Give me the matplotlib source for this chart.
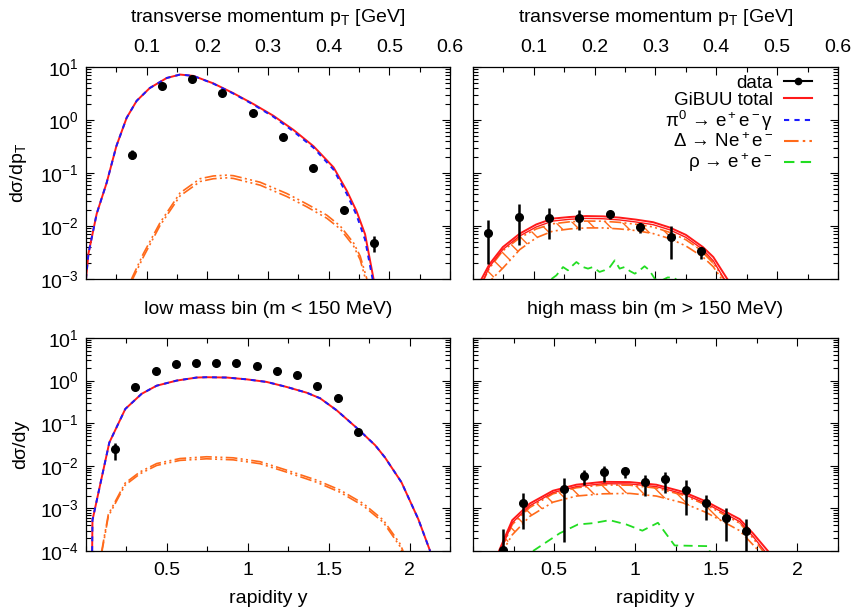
import matplotlib
matplotlib.use("Agg")
import matplotlib.pyplot as plt
from matplotlib.lines import Line2D
from matplotlib.ticker import LogLocator, MultipleLocator, NullFormatter
import numpy as np

plt.rcParams['font.family'] = ['Liberation Sans', 'DejaVu Sans']
plt.rcParams['mathtext.fontset'] = 'custom'
plt.rcParams['mathtext.rm'] = 'Liberation Sans'
plt.rcParams['mathtext.it'] = 'Liberation Sans:italic'
plt.rcParams['mathtext.default'] = 'regular'
plt.rcParams['hatch.linewidth'] = 1.0

# ---------------- data: top-left (pT, low mass) ----------------
pt_data_low = [0.075, 0.125, 0.175, 0.225, 0.275, 0.325, 0.375, 0.425, 0.475]
val_data_pt_low = [0.22, 4.3, 5.9, 3.3, 1.36, 0.485, 0.124, 0.020, 0.0047]
lo_data_pt_low = [0.18, 4.0, 5.5, 3.1, 1.28, 0.46, 0.116, 0.018, 0.0032]
hi_data_pt_low = [0.27, 4.6, 6.3, 3.5, 1.44, 0.51, 0.132, 0.022, 0.0065]

pt_tot_low = [0.0, 0.004, 0.0176, 0.034, 0.05, 0.067, 0.0835, 0.105, 0.133, 0.155, 0.177,
              0.21, 0.243, 0.276, 0.309, 0.342, 0.375, 0.408, 0.43, 0.446, 0.46, 0.474]
tot_pt_low = [0.001, 0.003, 0.017, 0.065, 0.32, 1.1, 2.3, 4.0, 6.2, 7.2, 6.8,
              4.9, 3.2, 2.0, 1.2, 0.65, 0.32, 0.128, 0.046, 0.019, 0.007, 0.001]
pi0_pt_low = [0.001, 0.003, 0.017, 0.065, 0.32, 1.1, 2.3, 4.0, 6.2, 7.2, 6.8,
              4.85, 3.15, 1.95, 1.15, 0.61, 0.30, 0.116, 0.040, 0.016, 0.0055, 0.0008]

pt_delta_low = [0.075, 0.0945, 0.122, 0.155, 0.188, 0.21, 0.232, 0.243, 0.287, 0.331,
                0.364, 0.397, 0.419, 0.441, 0.452, 0.463]
delta_hi_pt_low = [0.001, 0.003, 0.0115, 0.042, 0.078, 0.088, 0.091, 0.089, 0.067, 0.041,
                   0.026, 0.016, 0.010, 0.0048, 0.0027, 0.001]
delta_lo_pt_low = [0.0009, 0.0026, 0.0102, 0.037, 0.069, 0.078, 0.081, 0.079, 0.059, 0.036,
                   0.023, 0.014, 0.0088, 0.0042, 0.0023, 0.0008]

# ---------------- data: top-right (pT, high mass) ----------------
pt_data_high = [0.025, 0.075, 0.125, 0.175, 0.225, 0.275, 0.325, 0.375]
val_data_pt_high = [0.0075, 0.0148, 0.0142, 0.0142, 0.0166, 0.0094, 0.0062, 0.0034]
lo_data_pt_high = [0.0019, 0.0043, 0.0058, 0.0085, 0.0135, 0.0074, 0.0024, 0.0024]
hi_data_pt_high = [0.0128, 0.0256, 0.0222, 0.0198, 0.0195, 0.0114, 0.0101, 0.0041]

pt_tot_high = [0.014, 0.027, 0.049, 0.077, 0.104, 0.131, 0.159, 0.186, 0.214, 0.241,
               0.268, 0.296, 0.323, 0.35, 0.378, 0.395, 0.418]
tot_hi_pt_high = [0.001, 0.0019, 0.0040, 0.0072, 0.0107, 0.0138, 0.0148, 0.0154, 0.0152, 0.0144,
                  0.0132, 0.0118, 0.0094, 0.0068, 0.0040, 0.0026, 0.001]
tot_lo_pt_high = [0.0008, 0.0017, 0.0036, 0.0065, 0.0096, 0.0124, 0.0134, 0.0139, 0.0137, 0.0130,
                  0.0119, 0.0106, 0.0085, 0.0061, 0.0036, 0.0022, 0.0008]
delta_hi_pt_high = [0.0008, 0.0016, 0.0034, 0.0060, 0.0088, 0.0110, 0.0120, 0.0124, 0.0123, 0.0117,
                    0.0108, 0.0096, 0.0076, 0.0055, 0.0033, 0.0020, 0.0008]
delta_lo_pt_high = [0.0006, 0.0009, 0.0016, 0.0036, 0.0060, 0.0080, 0.0088, 0.0092, 0.0092, 0.0088,
                    0.0082, 0.0072, 0.0058, 0.0042, 0.0026, 0.0017, 0.0007]

pt_rho_high = [0.129, 0.137, 0.148, 0.156, 0.164, 0.170, 0.181, 0.189, 0.197, 0.208, 0.216,
               0.225, 0.233, 0.241, 0.249, 0.258, 0.266, 0.274, 0.282, 0.290, 0.299, 0.307,
               0.320, 0.331, 0.337]
rho_pt_high = [0.0010, 0.00117, 0.00168, 0.00146, 0.00181, 0.00209, 0.00168, 0.00157, 0.00168,
               0.00136, 0.00146, 0.00168, 0.00225, 0.00157, 0.00168, 0.00141, 0.00126, 0.00146,
               0.00174, 0.00146, 0.0010, 0.0009, 0.00107, 0.00106, 0.0009]

# ---------------- data: bottom-left (rapidity, low mass) ----------------
y_data_low = [0.18, 0.305, 0.43, 0.555, 0.68, 0.805, 0.93, 1.055, 1.18, 1.305, 1.43, 1.555, 1.68]
val_data_y_low = [0.0246, 0.70, 1.69, 2.41, 2.55, 2.6, 2.6, 2.2, 1.65, 1.36, 0.75, 0.385, 0.063]
lo_data_y_low = [0.014, 0.66, 1.60, 2.30, 2.43, 2.48, 2.48, 2.10, 1.57, 1.29, 0.71, 0.365, 0.054]
hi_data_y_low = [0.035, 0.74, 1.78, 2.52, 2.67, 2.72, 2.72, 2.30, 1.73, 1.43, 0.79, 0.405, 0.074]

y_tot_low = [0.038, 0.04, 0.144, 0.243, 0.344, 0.437, 0.56, 0.684, 0.746, 0.87, 0.993, 1.117,
             1.24, 1.364, 1.447, 1.55, 1.683, 1.787, 1.848, 1.95, 2.054, 2.127]
tot_y_low = [1e-4, 5.3e-4, 0.035, 0.216, 0.49, 0.76, 1.0, 1.18, 1.2, 1.18, 1.07, 0.93,
             0.71, 0.52, 0.385, 0.20, 0.072, 0.0305, 0.0157, 0.0041, 5.6e-4, 1e-4]
pi0_y_low = [1e-4, 5.3e-4, 0.035, 0.216, 0.49, 0.76, 1.0, 1.18, 1.2, 1.18, 1.07, 0.93,
             0.71, 0.52, 0.385, 0.20, 0.072, 0.0305, 0.0157, 0.0041, 5.6e-4, 1e-4]

y_delta_low = [0.097, 0.138, 0.241, 0.334, 0.437, 0.581, 0.746, 0.91, 1.076, 1.24, 1.426,
               1.57, 1.714, 1.838, 1.94, 1.96]
delta_hi_y_low = [1e-4, 7.2e-4, 0.0039, 0.0072, 0.0113, 0.0148, 0.0163, 0.0154, 0.0125, 0.0079,
                  0.0046, 0.0027, 0.0013, 5.3e-4, 1.5e-4, 1e-4]
delta_lo_y_low = [9e-5, 6.5e-4, 0.0035, 0.0065, 0.0102, 0.0134, 0.0146, 0.0138, 0.0112, 0.0071,
                  0.0041, 0.0024, 0.00115, 4.7e-4, 1.3e-4, 8.5e-5]

# ---------------- data: bottom-right (rapidity, high mass) ----------------
y_data_high = [0.185, 0.31, 0.56, 0.684, 0.81, 0.936, 1.06, 1.184, 1.31, 1.435, 1.56, 1.685]
val_data_y_high = [1.05e-4, 1.36e-3, 2.79e-3, 5.7e-3, 7.0e-3, 7.5e-3, 4.06e-3, 4.78e-3,
                   2.64e-3, 1.33e-3, 6.04e-4, 2.94e-4]
lo_data_y_high = [1e-5, 3.2e-4, 1.6e-4, 3.5e-3, 4.06e-3, 5.3e-3, 1.95e-3, 2.33e-3,
                  7.0e-4, 5.3e-4, 1.75e-4, 1e-5]
hi_data_y_high = [3.2e-4, 2.33e-3, 5.3e-3, 7.9e-3, 9.8e-3, 8.9e-3, 6.0e-3, 7.2e-3,
                  4.6e-3, 2.05e-3, 1.04e-3, 5.6e-4]

y_tot_high = [0.16, 0.242, 0.35, 0.493, 0.637, 0.801, 0.966, 1.13, 1.294, 1.438, 1.644, 1.726, 1.818]
tot_hi_y_high = [1e-4, 5.3e-4, 1.3e-3, 2.6e-3, 3.6e-3, 4.2e-3, 4.15e-3, 3.6e-3, 2.45e-3,
                 1.45e-3, 5.6e-4, 2.6e-4, 1e-4]
tot_lo_y_high = [8e-5, 4.6e-4, 1.15e-3, 2.35e-3, 3.25e-3, 3.8e-3, 3.75e-3, 3.25e-3, 2.2e-3,
                 1.3e-3, 4.9e-4, 2.2e-4, 8e-5]
delta_hi_y_high = [8e-5, 4.2e-4, 1.05e-3, 2.2e-3, 3.05e-3, 3.55e-3, 3.5e-3, 3.0e-3, 2.05e-3,
                   1.2e-3, 4.5e-4, 2.0e-4, 7e-5]
delta_lo_y_high = [7e-5, 2.4e-4, 6.5e-4, 1.4e-3, 1.95e-3, 2.2e-3, 2.25e-3, 1.95e-3, 1.35e-3,
                   8.0e-4, 3.0e-4, 1.4e-4, 6e-5]

y_rho_high = [0.37, 0.534, 0.647, 0.74, 0.842, 0.945, 1.044, 1.14, 1.243, 1.449, 1.46]
rho_y_high = [1e-4, 2.6e-4, 4.2e-4, 4.5e-4, 5.3e-4, 4.2e-4, 3.0e-4, 4.6e-4, 1.35e-4, 1.3e-4, 1e-4]

# ---------------- labels ----------------
pt_ticks = [0.1, 0.2, 0.3, 0.4, 0.5, 0.6]
y_ticks = [0.5, 1.0, 1.5, 2.0]
pt_label = 'transverse momentum p$_T$ [GeV]'
rap_label = 'rapidity y'
title_low = 'low mass bin (m < 150 MeV)'
title_high = 'high mass bin (m > 150 MeV)'
ylab_pt = 'dσ/dp$_T$'
ylab_y = 'dσ/dy'
legend_labels = ['data', 'GiBUU total', 'π$^0$ → e$^+$e$^-$γ', 'Δ → Ne$^+$e$^-$', 'ρ → e$^+$e$^-$']

# ---------------- styles ----------------
RED = '#ff1a1a'
BLUE = '#1a1aff'
ORANGE = '#ff6a1a'
GREEN = '#22dd22'
FS = 14
LFS = 13.5
ls_delta = (0, (7, 2, 1.2, 2, 1.2, 2))
ls_pi0 = (0, (2.5, 2.5))
ls_rho = (0, (5, 3))

W, H = 853, 610
fig = plt.figure(figsize=(W / 100, H / 100), dpi=100)

def box(l, t, r, b):
    return [l / W, 1 - b / H, (r - l) / W, (b - t) / H]

ax_tl = fig.add_axes(box(86, 67, 450, 279))
ax_tr = fig.add_axes(box(473, 67, 838, 279))
ax_bl = fig.add_axes(box(86, 338, 450, 551))
ax_br = fig.add_axes(box(473, 338, 838, 551))

def style(ax, top_panel, left_panel):
    ax.set_yscale('log')
    ax.yaxis.set_major_locator(LogLocator(base=10, numticks=10))
    ax.yaxis.set_minor_locator(LogLocator(base=10, subs=np.arange(2, 10), numticks=20))
    ax.yaxis.set_minor_formatter(NullFormatter())
    if top_panel:
        ax.set_xlim(0, 0.6)
        ax.set_ylim(1e-3, 1e1)
        ax.xaxis.set_minor_locator(MultipleLocator(0.05))
        ax.xaxis.tick_top()
        ax.xaxis.set_label_position('top')
        ax.set_xticks(pt_ticks)
        ax.set_xticklabels([f'{v:.1f}' for v in pt_ticks])
        ax.set_xlabel(pt_label, fontsize=FS, labelpad=12)
    else:
        ax.set_xlim(0, 2.25)
        ax.set_ylim(1e-4, 1e1)
        ax.xaxis.set_minor_locator(MultipleLocator(0.25))
        ax.set_xticks(y_ticks)
        ax.set_xticklabels(['0.5', '1', '1.5', '2'])
        ax.set_xlabel(rap_label, fontsize=FS, labelpad=8)
    ax.tick_params(which='both', direction='in', top=True, bottom=True, left=True, right=True,
                   labelsize=FS, width=0.8)
    ax.tick_params(axis='x', pad=8)
    ax.tick_params(axis='y', pad=5)
    ax.tick_params(which='major', length=6)
    ax.tick_params(which='minor', length=3.5)
    if not left_panel:
        ax.tick_params(labelleft=False)
    for s in ax.spines.values():
        s.set_linewidth(0.9)

def band(ax, x, lo, hi):
    ax.fill_between(x, lo, hi, facecolor='none', edgecolor=ORANGE, hatch='\\\\', linewidth=0)
    ax.plot(x, hi, color=ORANGE, lw=1.2, ls=ls_delta)
    ax.plot(x, lo, color=ORANGE, lw=1.2, ls=ls_delta)

def data(ax, x, v, lo, hi):
    v = np.array(v); lo = np.array(lo); hi = np.array(hi)
    ax.errorbar(x, v, yerr=[v - lo, hi - v], fmt='o', color='black', ms=5.5,
                elinewidth=1.8, capsize=0, zorder=10, clip_on=True)

# top-left
ax = ax_tl
style(ax, True, True)
ax.plot(pt_delta_low, delta_hi_pt_low, color=ORANGE, lw=1.2, ls=ls_delta)
ax.plot(pt_delta_low, delta_lo_pt_low, color=ORANGE, lw=1.2, ls=ls_delta)
ax.plot(pt_tot_low, tot_pt_low, color=RED, lw=1.4)
ax.plot(pt_tot_low, pi0_pt_low, color=BLUE, lw=1.4, ls=ls_pi0)
data(ax, pt_data_low, val_data_pt_low, lo_data_pt_low, hi_data_pt_low)
ax.set_ylabel(ylab_pt, fontsize=FS, labelpad=8)

# top-right
ax = ax_tr
style(ax, True, False)
band(ax, pt_tot_high, delta_lo_pt_high, delta_hi_pt_high)
ax.plot(pt_rho_high, rho_pt_high, color=GREEN, lw=1.3, ls=ls_rho)
ax.plot(pt_tot_high, tot_hi_pt_high, color=RED, lw=1.4)
ax.plot(pt_tot_high, tot_lo_pt_high, color=RED, lw=1.0)
data(ax, pt_data_high, val_data_pt_high, lo_data_pt_high, hi_data_pt_high)

handles = [Line2D([0], [0], color='black', lw=1.5, marker='o', ms=4.5),
           Line2D([0], [0], color=RED, lw=1.5),
           Line2D([0], [0], color=BLUE, lw=1.5, ls=ls_pi0),
           Line2D([0], [0], color=ORANGE, lw=1.5, ls=ls_delta),
           Line2D([0], [0], color=GREEN, lw=1.5, ls=ls_rho)]
ax.legend(handles, legend_labels, loc='upper right', bbox_to_anchor=(0.93, 0.965),
          markerfirst=False, frameon=False, fontsize=LFS, handlelength=1.5,
          handletextpad=0.6, labelspacing=0.0, borderpad=0, borderaxespad=0, numpoints=1)

# bottom-left
ax = ax_bl
style(ax, False, True)
ax.plot(y_delta_low, delta_hi_y_low, color=ORANGE, lw=1.2, ls=ls_delta)
ax.plot(y_delta_low, delta_lo_y_low, color=ORANGE, lw=1.2, ls=ls_delta)
ax.plot(y_tot_low, tot_y_low, color=RED, lw=1.4)
ax.plot(y_tot_low, pi0_y_low, color=BLUE, lw=1.4, ls=ls_pi0)
data(ax, y_data_low, val_data_y_low, lo_data_y_low, hi_data_y_low)
ax.set_ylabel(ylab_y, fontsize=FS, labelpad=8)
ax.set_title(title_low, fontsize=FS, pad=17)

# bottom-right
ax = ax_br
style(ax, False, False)
band(ax, y_tot_high, delta_lo_y_high, delta_hi_y_high)
ax.plot(y_rho_high, rho_y_high, color=GREEN, lw=1.3, ls=ls_rho)
ax.plot(y_tot_high, tot_hi_y_high, color=RED, lw=1.4)
ax.plot(y_tot_high, tot_lo_y_high, color=RED, lw=1.0)
data(ax, y_data_high, val_data_y_high, lo_data_y_high, hi_data_y_high)
ax.set_title(title_high, fontsize=FS, pad=17)

fig.savefig('out.png', dpi=100)
